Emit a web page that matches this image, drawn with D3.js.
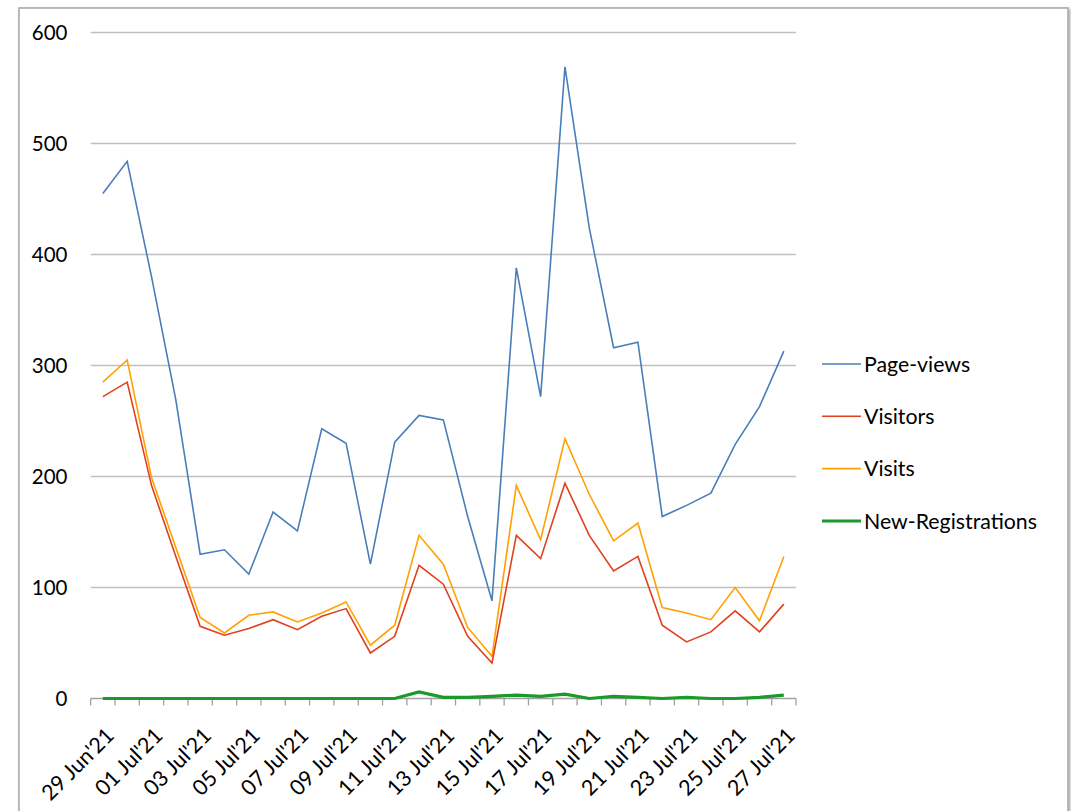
<!DOCTYPE html>
<html>
<head>
<meta charset="utf-8">
<script src="https://cdn.jsdelivr.net/npm/d3@7/dist/d3.min.js"></script>
<style>
  html, body { margin: 0; padding: 0; background: #ffffff; }
  svg { display: block; }
  text { font-family: Lato, "Open Sans", sans-serif; fill: #000; }
</style>
</head>
<body>
<svg id="chart" width="1071" height="811"></svg>
<script>
const dates = ["29 Jun'21","30 Jun'21","01 Jul'21","02 Jul'21","03 Jul'21","04 Jul'21","05 Jul'21","06 Jul'21",
  "07 Jul'21","08 Jul'21","09 Jul'21","10 Jul'21","11 Jul'21","12 Jul'21","13 Jul'21","14 Jul'21","15 Jul'21",
  "16 Jul'21","17 Jul'21","18 Jul'21","19 Jul'21","20 Jul'21","21 Jul'21","22 Jul'21","23 Jul'21","24 Jul'21",
  "25 Jul'21","26 Jul'21","27 Jul'21"];
const pageViews = [455,484,380,269,130,134,112,168,151,243,230,121,231,255,251,164,88,388,272,569,424,316,321,164,174,185,229,263,313];
const visitors  = [272,285,192,128,65,57,63,71,62,74,81,41,56,120,103,56,32,147,126,194,147,115,128,66,51,60,79,60,85];
const visits    = [285,305,199,136,73,59,75,78,69,77,87,48,66,147,121,64,38,192,143,234,184,142,158,82,77,71,100,70,128];
const newRegs   = [0,0,0,0,0,0,0,0,0,0,0,0,0,6,1,1,2,3,2,4,0,2,1,0,1,0,0,1,3];
const yTicks = [0,100,200,300,400,500,600];
const seriesNames = ["Page-views","Visitors","Visits","New-Registrations"];
const seriesColors = ["#4a7ebb","#e2401c","#ffa100","#1a9a2a"];
const seriesWidths = [1.6,1.6,1.6,3.2];
const seriesData = [pageViews, visitors, visits, newRegs];

(function () {
const svg = d3.select("#chart");

const defs = svg.append("defs");
const f = defs.append("filter").attr("id","sh").attr("x","-5%").attr("y","-5%").attr("width","110%").attr("height","110%");
f.append("feDropShadow").attr("dx",1.5).attr("dy",1.5).attr("stdDeviation",1.5).attr("flood-color","#000").attr("flood-opacity",0.35);
svg.append("rect").attr("x",19).attr("y",8).attr("width",1049).attr("height",830)
  .attr("fill","#fff").attr("stroke","#a6a6a6").attr("stroke-width",1.5).attr("filter","url(#sh)");

const pLeft = 90.7, pRight = 796, pTop = 32.5, pBottom = 698.5;
const x = d3.scaleBand().domain(dates).range([pLeft, pRight]).paddingInner(0).paddingOuter(0);
const y = d3.scaleLinear().domain([0,600]).range([pBottom, pTop]);
const cx = d => x(d) + x.bandwidth()/2;

svg.append("g").selectAll("line").data(yTicks.filter(t => t > 0)).join("line")
  .attr("x1", pLeft).attr("x2", pRight).attr("y1", d => y(d)).attr("y2", d => y(d))
  .attr("stroke", "#c0c0c0").attr("stroke-width", 1.3);

svg.append("g").selectAll("text").data(yTicks).join("text")
  .attr("x", 67.5).attr("y", d => y(d)).attr("dy","0.36em")
  .attr("text-anchor","end").attr("font-size", 20.5).text(d => d);

const ax = svg.append("g");
ax.append("line").attr("x1", pLeft).attr("x2", pRight).attr("y1", pBottom).attr("y2", pBottom)
  .attr("stroke","#a0a0a0").attr("stroke-width",1.3);
const bounds = dates.map(d => x(d)).concat([pRight]);
ax.selectAll("line.tk").data(bounds).join("line").attr("class","tk")
  .attr("x1", d => d).attr("x2", d => d).attr("y1", pBottom).attr("y2", pBottom + 7)
  .attr("stroke","#a0a0a0").attr("stroke-width",1.3);

svg.append("g").selectAll("text").data(dates.filter((d,i) => i % 2 === 0)).join("text")
  .attr("text-anchor","end").attr("font-size", 21.5)
  .attr("transform", d => `translate(${cx(d) + 12.5},737) rotate(-45)`)
  .text(d => d);

const line = d3.line().x((v,i) => cx(dates[i])).y(v => y(v));
const order = [0,2,1,3];
svg.append("g").selectAll("path").data(order).join("path")
  .attr("d", k => line(seriesData[k]))
  .attr("fill","none").attr("stroke", k => seriesColors[k]).attr("stroke-width", k => seriesWidths[k])
  .attr("stroke-linejoin","miter");

const lg = svg.append("g").selectAll("g").data(seriesNames).join("g")
  .attr("transform", (d,i) => `translate(822,${364 + i*52.3})`);
lg.append("line").attr("x1",0).attr("x2",39).attr("y1",0).attr("y2",0)
  .attr("stroke", (d,i) => seriesColors[i]).attr("stroke-width", (d,i) => i === 3 ? 3 : 1.6);
lg.append("text").attr("x",42).attr("y",0).attr("dy","0.36em").attr("font-size",21.3).text(d => d);
})();
</script>
</body>
</html>
